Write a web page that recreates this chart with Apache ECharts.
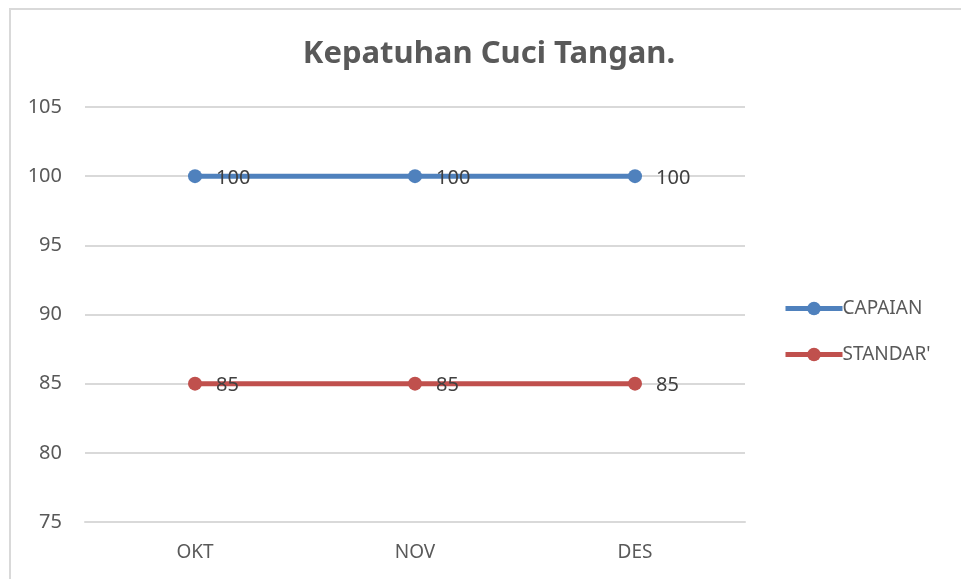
<!DOCTYPE html>
<html>
<head>
<meta charset="utf-8">
<script src="https://cdn.jsdelivr.net/npm/echarts@6/dist/echarts.min.js"></script>
<style>
  html, body { margin: 0; padding: 0; background: #fff; }
  #frame { position: absolute; left: 9px; top: 8px; width: 980px; height: 600px;
           border-left: 2px solid #d9d9d9; border-top: 2px solid #d9d9d9; }
  #main { position: absolute; left: 0; top: 0; width: 961px; height: 579px; }
</style>
</head>
<body>
<div id="frame"></div>
<div id="main"></div>
<script>
  var chartTitle = 'Kepatuhan Cuci Tangan.';
  var months = ['OKT', 'NOV', 'DES'];
  var capaian = [100, 100, 100];
  var standar = [85, 85, 85];
  var seriesNames = ['CAPAIAN', "STANDAR'"];

  var font = 'Noto Sans';
  var chart = echarts.init(document.getElementById('main'));

  var makeSeries = function(name, data, color){
    return {
      name: name
      ,type: 'line'
      ,data: data
      ,symbol: 'circle'
      ,symbolSize: 14
      ,lineStyle: { width: 5, color: color }
      ,itemStyle: { color: color }
      ,label: {
        show: true
        ,position: 'right'
        ,distance: 14
        ,offset: [0, 2]
        ,color: '#404040'
        ,fontFamily: font
        ,fontSize: 20
      }
    };
  };

  chart.setOption({
    animation: false
    ,title: {
      text: chartTitle
      ,left: 484
      ,textAlign: 'center'
      ,top: 34
      ,textStyle: { fontFamily: font, fontSize: 31, fontWeight: 'bold', color: '#595959' }
    }
    ,legend: {
      orient: 'vertical'
      ,left: 778
      ,top: 294
      ,itemWidth: 57
      ,itemHeight: 17
      ,itemGap: 27
      ,lineStyle: { width: 5 }
      ,textStyle: { fontFamily: font, fontSize: 19, color: '#595959', padding: [0, 0, 0, -5] }
      ,data: seriesNames
    }
    ,grid: { left: 85, right: 216, top: 107, bottom: 57 }
    ,xAxis: {
      type: 'category'
      ,data: months
      ,axisLine: { lineStyle: { color: '#d9d9d9', width: 2 } }
      ,axisTick: { show: false }
      ,axisLabel: { margin: 21, fontFamily: font, fontSize: 19, color: '#595959' }
    }
    ,yAxis: {
      type: 'value'
      ,min: 75
      ,max: 105
      ,interval: 5
      ,axisLine: { show: false }
      ,axisTick: { show: false }
      ,axisLabel: { margin: 23, fontFamily: font, fontSize: 20, color: '#595959' }
      ,splitLine: { lineStyle: { color: '#d9d9d9', width: 2 } }
    }
    ,series: [
      makeSeries(seriesNames[0], capaian, '#4f81bd')
      ,makeSeries(seriesNames[1], standar, '#c0504d')
    ]
  });
</script>
</body>
</html>
